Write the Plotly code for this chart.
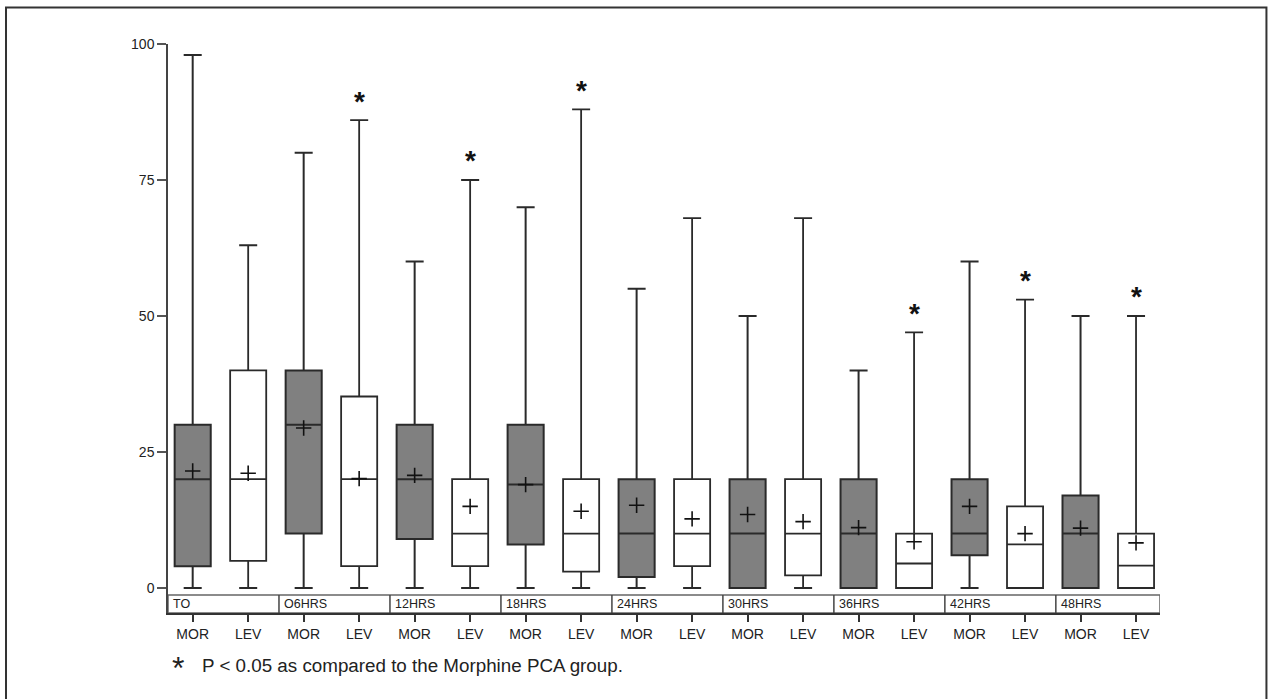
import plotly.graph_objects as go

groups = ["TO", "O6HRS", "12HRS", "18HRS", "24HRS", "30HRS", "36HRS", "42HRS", "48HRS"]
arms = ["MOR", "LEV"]

# stats per group: MOR and LEV
mor_q1 = [4, 10, 9, 8, 2, 0, 0, 6, 0]
mor_med = [20, 30, 20, 19, 10, 10, 10, 10, 10]
mor_q3 = [30, 40, 30, 30, 20, 20, 20, 20, 17]
mor_min = [0, 0, 0, 0, 0, 0, 0, 0, 0]
mor_max = [98, 80, 60, 70, 55, 50, 40, 60, 50]
mor_mean = [21.5, 29.4, 20.7, 19.0, 15.2, 13.5, 11.1, 15.0, 11.0]

lev_q1 = [5, 4, 4, 3, 4, 2.3, 0, 0, 0]
lev_med = [20, 20, 10, 10, 10, 10, 4.5, 8, 4.1]
lev_q3 = [40, 35.2, 20, 20, 20, 20, 10, 15, 10]
lev_min = [0, 0, 0, 0, 0, 0, 0, 0, 0]
lev_max = [63, 86, 75, 88, 68, 68, 47, 53, 50]
lev_mean = [21.1, 20.1, 15.0, 14.1, 12.7, 12.2, 8.5, 10.0, 8.3]

significant = [False, True, True, True, False, False, True, True, True]

n = len(groups)
mor_x = [2 * i for i in range(n)]
lev_x = [2 * i + 1 for i in range(n)]

FONT = "Arial, Liberation Sans, sans-serif"
line_col = "#2a2a2a"
fig = go.Figure()

fig.add_trace(go.Box(
    x=mor_x, q1=mor_q1, median=mor_med, q3=mor_q3,
    lowerfence=mor_min, upperfence=mor_max,
    width=0.65, whiskerwidth=0.5,
    fillcolor="#808080", line=dict(color=line_col, width=2),
    boxpoints=False, showlegend=False, hoverinfo="skip"))
fig.add_trace(go.Box(
    x=lev_x, q1=lev_q1, median=lev_med, q3=lev_q3,
    lowerfence=lev_min, upperfence=lev_max,
    width=0.65, whiskerwidth=0.5,
    fillcolor="#ffffff", line=dict(color=line_col, width=1.8),
    boxpoints=False, showlegend=False, hoverinfo="skip"))

fig.add_trace(go.Scatter(
    x=mor_x + lev_x, y=mor_mean + lev_mean, mode="markers",
    marker=dict(symbol="cross-thin", size=11, line=dict(color="#111", width=1.6)),
    showlegend=False, hoverinfo="skip"))

x_lo, x_hi = -0.445, 17.432
y_lo, row_top = -4.6, -1.29

shapes = []
annotations = []
# category row
shapes.append(dict(type="rect", xref="x", yref="y", x0=x_lo, x1=x_hi, y0=y_lo, y1=row_top,
                   line=dict(color="#666", width=1.5), fillcolor="rgba(0,0,0,0)", layer="above"))
for i, g in enumerate(groups):
    left = 2 * i + x_lo
    if i > 0:
        shapes.append(dict(type="line", xref="x", yref="y", x0=left, x1=left, y0=y_lo, y1=row_top,
                           line=dict(color="#444", width=1.5)))
    annotations.append(dict(x=left, y=(y_lo + row_top) / 2, xref="x", yref="y", text=g,
                            showarrow=False, xanchor="left", yanchor="middle", xshift=3,
                            font=dict(family=FONT, size=12.5, color="#222")))
    if significant[i]:
        annotations.append(dict(x=lev_x[i], y=lev_max[i], xref="x", yref="y", text="<b>*</b>",
                                showarrow=False, xanchor="center", yanchor="middle", yshift=19,
                                font=dict(family=FONT, size=28, color="#111")))

# outer frame
shapes.append(dict(type="rect", xref="paper", yref="paper", x0=-0.1633, x1=1.1073, y0=-0.17, y1=1.0641,
                   line=dict(color="#333", width=2), fillcolor="rgba(0,0,0,0)"))

annotations.append(dict(x=0.0101, y=-0.0967, xref="paper", yref="paper", text="*", showarrow=False,
                        xanchor="center", yanchor="middle",
                        font=dict(family=FONT, size=32, color="#222")))
annotations.append(dict(x=0.0323, y=-0.0914, xref="paper", yref="paper",
                        text="P < 0.05 as compared to the Morphine PCA group.", showarrow=False,
                        xanchor="left", yanchor="middle",
                        font=dict(family=FONT, size=18.8, color="#222")))

tickvals = []
ticktext = []
for i in range(n):
    tickvals += [mor_x[i], lev_x[i]]
    ticktext += arms

fig.update_layout(
    width=1268, height=699,
    margin=dict(l=168, r=108, t=44, b=86),
    paper_bgcolor="white", plot_bgcolor="white",
    boxmode="overlay",
    shapes=shapes, annotations=annotations,
    xaxis=dict(range=[x_lo, x_hi], tickvals=tickvals, ticktext=ticktext,
               ticks="outside", ticklen=7, tickwidth=1.5, tickcolor="#333",
               showline=True, linecolor="#333", linewidth=2, showgrid=False, zeroline=False,
               tickfont=dict(family=FONT, size=14, color="#222")),
    yaxis=dict(range=[y_lo, 100], tickvals=[0, 25, 50, 75, 100],
               ticks="outside", ticklen=9, tickwidth=1.5, tickcolor="#555",
               showline=True, linecolor="#444", linewidth=1.5, showgrid=False, zeroline=False,
               tickfont=dict(family=FONT, size=14, color="#222")),
)

fig.write_html("out.html", config={"displayModeBar": False},
               post_script="document.body.style.margin='0';document.body.style.overflow='hidden';")
